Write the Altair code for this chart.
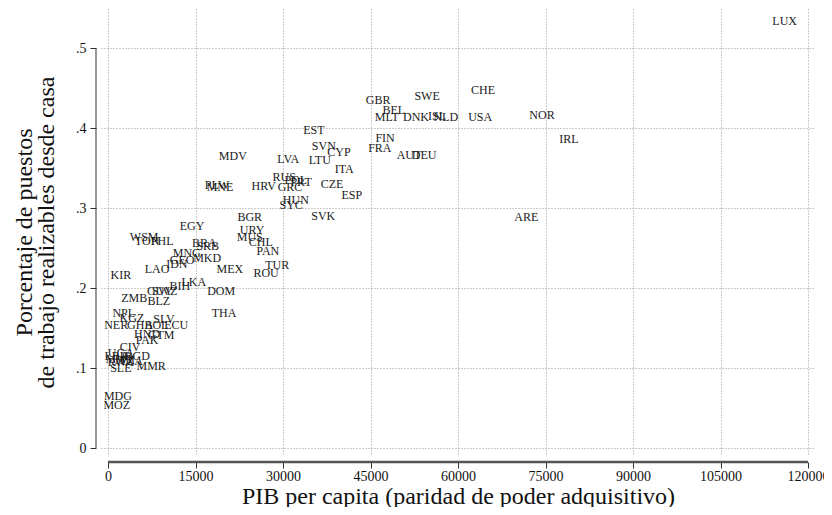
import altair as alt
import pandas as pd

codes = ["LUX","CHE","SWE","GBR","BEL","MLT","DNK","ISL","NLD","USA","NOR","IRL",
         "EST","FIN","FRA","AUT","DEU","SVN","CYP","LTU","LVA","MDV","ITA","RUS",
         "POL","PRT","HRV","GRC","CZE","ESP","PLW","MNE","HUN","SYC","SVK","BGR",
         "ARE","EGY","URY","MUS","CHL","PAN","TUR","ROU","MEX","WSM","TON","PHL",
         "BRA","SRB","MNG","MKD","GEO","IDN","LAO","KIR","BIH","LKA","DOM","GUY",
         "SWZ","ZMB","BLZ","THA","NPL","KGZ","SLV","NER","GHA","BOL","ECU","HND",
         "GTM","PAK","CIV","LBR","UGA","BGD","HTI","RWA","TZA","MWI","SLE","MMR",
         "MDG","MOZ"]
gdp = [116000,64300,54700,46300,49000,47800,52800,56400,57900,63800,74400,79000,
       35300,47500,46600,51600,54200,37000,39600,36300,30900,21400,40500,30200,
       32200,33100,26700,31200,38400,41800,18700,19200,32200,31400,36900,24300,
       71700,14400,24700,24300,26200,27400,29000,27100,20900,6200,6700,9300,
       16500,17100,13500,17000,12700,11800,8400,2200,12300,14700,19400,8900,
       9700,4500,8700,19900,2700,4100,9600,1400,5500,8300,11700,6700,
       9100,6700,3800,1400,2200,5000,2900,2200,4000,1800,2200,7400,
       1700,1500]
share = [0.534,0.4475,0.440,0.435,0.4225,0.414,0.414,0.415,0.414,0.414,0.416,0.386,
         0.3975,0.3875,0.375,0.366,0.366,0.3775,0.370,0.360,0.361,0.365,0.349,0.339,
         0.335,0.3325,0.3275,0.326,0.330,0.316,0.329,0.326,0.310,0.304,0.290,0.289,
         0.289,0.2775,0.2725,0.264,0.2575,0.246,0.229,0.219,0.224,0.264,0.259,0.259,
         0.256,0.2525,0.244,0.2375,0.235,0.230,0.224,0.216,0.2025,0.2075,0.196,0.196,
         0.196,0.1875,0.184,0.169,0.169,0.1625,0.161,0.154,0.154,0.154,0.154,0.1425,
         0.141,0.135,0.126,0.115,0.119,0.115,0.110,0.107,0.109,0.111,0.100,0.1025,
         0.065,0.054]

x_ticks = [0, 15000, 30000, 45000, 60000, 75000, 90000, 105000, 120000]
y_ticks = [0, 0.1, 0.2, 0.3, 0.4, 0.5]

df = pd.DataFrame({"code": codes, "gdp": gdp, "share": share})
axis_df = pd.DataFrame({"x0": [0], "x1": [120000], "y0": [0.0], "y1": [0.5]})

FONT = "Liberation Serif"
W, H = 714, 446

xscale = alt.Scale(domain=[-1200, 121200], nice=False, zero=False)
yscale = alt.Scale(domain=[-0.00875, 0.549], nice=False, zero=False)

xaxis = alt.Axis(values=x_ticks, domain=False, offset=7, tickSize=6, tickColor="#333",
                 tickWidth=1, labelFont=FONT, labelFontSize=14, labelColor="#111",
                 labelPadding=1, grid=True, gridDash=[1, 2], gridColor="#999",
                 gridWidth=1, format="d", labelFlush=False,
                 title="PIB per capita (paridad de poder adquisitivo)",
                 titleFont=FONT, titleFontSize=24, titleFontWeight="normal",
                 titleColor="#111", titlePadding=1)
yaxis = alt.Axis(values=y_ticks, domain=False, offset=5, tickSize=6, tickColor="#333",
                 tickWidth=1, labelFont=FONT, labelFontSize=14, labelColor="#111",
                 labelPadding=4, grid=True, gridDash=[1, 2], gridColor="#999",
                 gridWidth=1, labelFlush=False,
                 labelExpr="datum.value == 0 ? '0' : replace(format(datum.value, '.1f'), '0.', '.')",
                 title=["Porcentaje de puestos", "de trabajo realizables desde casa"],
                 titleFont=FONT, titleFontSize=24, titleFontWeight="normal",
                 titleColor="#111", titlePadding=17, titleLineHeight=22)

text = alt.Chart(df).mark_text(font=FONT, fontSize=12, color="#1a1a1a",
                               align="center", baseline="middle").encode(
    x=alt.X("gdp:Q", scale=xscale, axis=xaxis),
    y=alt.Y("share:Q", scale=yscale, axis=yaxis),
    text="code:N",
)

xline = alt.Chart(axis_df).mark_rule(color="#555", strokeWidth=2.5).encode(
    x=alt.X("x0:Q", scale=xscale), x2="x1:Q", y=alt.value(H + 7))
yline = alt.Chart(axis_df).mark_rule(color="#333", strokeWidth=1).encode(
    y=alt.Y("y0:Q", scale=yscale), y2="y1:Q", x=alt.value(-5))

chart = alt.layer(text, xline, yline).properties(
    width=W, height=H,
    autosize=alt.AutoSizeParams(type="none"),
    padding={"left": 93, "top": 1, "right": 9, "bottom": 52},
    background="white",
).configure_view(stroke=None)

chart.save("out.html", embed_options={"renderer": "svg", "actions": False})
